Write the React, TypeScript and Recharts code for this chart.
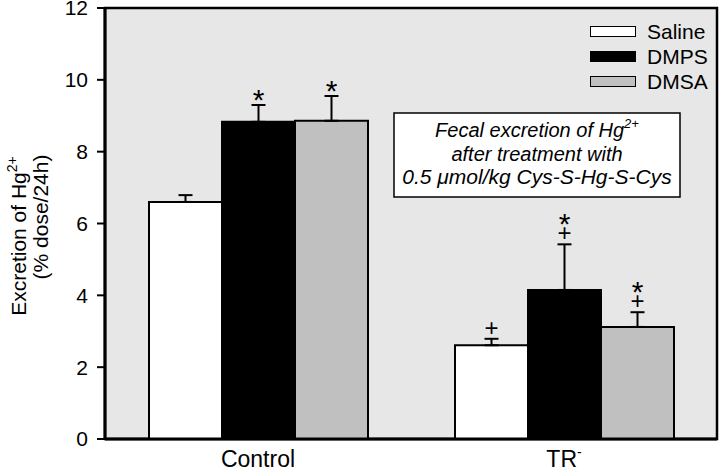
import {
  Bar,
  BarChart,
  CartesianGrid,
  ErrorBar,
  LabelList,
  Legend,
  ReferenceArea,
  XAxis,
  YAxis,
} from "recharts";

const CATEGORIES = ["Control", "TR-"];

const SALINE = [6.6, 2.61];
const SALINE_ERR = [0.19, 0.18];
const DMPS = [8.83, 4.15];
const DMPS_ERR = [0.47, 1.27];
const DMSA = [8.86, 3.12];
const DMSA_ERR = [0.69, 0.41];

// significance marks, listed bottom to top
const SALINE_MARKS = [[], ["+"]];
const DMPS_MARKS = [["*"], ["+", "*"]];
const DMSA_MARKS = [["*"], ["+", "*"]];

const Y_TICKS = [0, 2, 4, 6, 8, 10, 12];

const SERIES = [
  { key: "saline", name: "Saline", color: "#ffffff", errs: SALINE_ERR, marks: SALINE_MARKS },
  { key: "dmps", name: "DMPS", color: "#000000", errs: DMPS_ERR, marks: DMPS_MARKS },
  { key: "dmsa", name: "DMSA", color: "#c0c0c0", errs: DMSA_ERR, marks: DMSA_MARKS },
];

const FONT = '"Liberation Sans", Arial, sans-serif';

const rows = CATEGORIES.map((name, i) => ({
  name,
  saline: SALINE[i],
  salineErr: [0, SALINE_ERR[i]],
  dmps: DMPS[i],
  dmpsErr: [0, DMPS_ERR[i]],
  dmsa: DMSA[i],
  dmsaErr: [0, DMSA_ERR[i]],
}));

function markContent(marks: string[][], errs: number[]) {
  return (props: any) => {
    const vb = props.viewBox ?? {};
    const x = props.x ?? vb.x;
    const y = props.y ?? vb.y;
    const width = props.width ?? vb.width;
    const height = props.height ?? vb.height;
    const index = props.index;
    const value = Number(props.value);
    const list = marks[index] ?? [];
    if (!list.length || !value) return null;
    const cx = x + width / 2;
    const capY = y - (errs[index] / value) * height;
    return (
      <g>
        {list.map((m, i) => {
          const isStar = m === "*";
          const ty = isStar ? (i === 0 ? capY + 5 : capY - 10) : capY - 3;
          return (
            <text
              key={i}
              x={cx}
              y={ty}
              textAnchor="middle"
              fontSize={isStar ? 30 : 24}
              fontFamily={FONT}
              fill="#000"
            >
              {m}
            </text>
          );
        })}
      </g>
    );
  };
}

function XTick(props: any) {
  const { x, y, payload } = props;
  const label = String(payload.value);
  const isTR = label === "TR-";
  return (
    <text x={x} y={y + 26} textAnchor="middle" fontSize={23} fontFamily={FONT} fill="#000">
      {isTR ? "TR" : label}
      {isTR && (
        <tspan fontSize={14} dy={-10}>
          -
        </tspan>
      )}
    </text>
  );
}

function LegendBox() {
  const items = SERIES.map((s) => ({ name: s.name, color: s.color }));
  return (
    <div style={{ fontFamily: FONT }}>
      {items.map((it) => (
        <div key={it.name} style={{ display: "flex", alignItems: "center", height: 25 }}>
          <div
            style={{
              width: 44,
              height: 9,
              background: it.color,
              border: "1.5px solid #000",
              marginRight: 11,
            }}
          />
          <span style={{ fontSize: 21, color: "#000" }}>{it.name}</span>
        </div>
      ))}
    </div>
  );
}

export default function App() {
  return (
    <div style={{ position: "absolute", left: 0, top: 0, width: 720, height: 468, background: "#fff" }}>
      <BarChart
        width={720}
        height={468}
        data={rows}
        margin={{ top: 8, right: 3, bottom: 1, left: 0 }}
        barCategoryGap={44}
        barGap={0}
      >
        <CartesianGrid horizontal={false} vertical={false} fill="#e7e7e7" stroke="none" />
        <XAxis
          dataKey="name"
          height={28}
          axisLine={{ stroke: "#000", strokeWidth: 3 }}
          tickLine={false}
          tickSize={0}
          tick={<XTick />}
          interval={0}
        />
        <YAxis
          width={105}
          domain={[0, 12]}
          ticks={Y_TICKS}
          interval={0}
          axisLine={{ stroke: "#000", strokeWidth: 3 }}
          tickLine={{ stroke: "#000", strokeWidth: 2 }}
          tickSize={8}
          tickMargin={9}
          tick={{ fontSize: 21, fill: "#000", fontFamily: FONT }}
        />
        <ReferenceArea
          y1={0}
          y2={12}
          fill="none"
          stroke="#000"
          strokeWidth={2.5}
          ifOverflow="visible"
        />
        <Legend
          layout="vertical"
          align="center"
          verticalAlign="middle"
          content={<LegendBox />}
          wrapperStyle={{ position: "absolute", top: 19, left: 590, width: 128 }}
        />
        {SERIES.map((s) => (
          <Bar
            key={s.key}
            dataKey={s.key}
            name={s.name}
            fill={s.color}
            stroke="#000"
            strokeWidth={2}
            isAnimationActive={false}
          >
            <ErrorBar
              dataKey={`${s.key}Err`}
              direction="y"
              width={7}
              stroke="#000"
              strokeWidth={2}
              isAnimationActive={false}
            />
            <LabelList dataKey={s.key} content={markContent(s.marks, s.errs)} />
          </Bar>
        ))}
        <g>
          <rect x={394} y={113} width={286} height={84} fill="#fff" stroke="#000" strokeWidth={1.5} />
          <text x={537} y={137} textAnchor="middle" fontSize={20} fontStyle="italic" fontFamily={FONT}>
            Fecal excretion of Hg
            <tspan fontSize={13} dy={-9}>
              2+
            </tspan>
          </text>
          <text x={537} y={161} textAnchor="middle" fontSize={20} fontStyle="italic" fontFamily={FONT}>
            after treatment with
          </text>
          <text x={537} y={184} textAnchor="middle" fontSize={21} fontStyle="italic" fontFamily={FONT}>
            0.5 μmol/kg Cys-S-Hg-S-Cys
          </text>
        </g>
        <g fontFamily={FONT} fontSize={21} fill="#000">
          <text transform="translate(26,236) rotate(-90)" textAnchor="middle">
            Excretion of Hg
            <tspan fontSize={14} dy={-9}>
              2+
            </tspan>
          </text>
          <text transform="translate(48,217) rotate(-90)" textAnchor="middle">
            (% dose/24h)
          </text>
        </g>
      </BarChart>
    </div>
  );
}
